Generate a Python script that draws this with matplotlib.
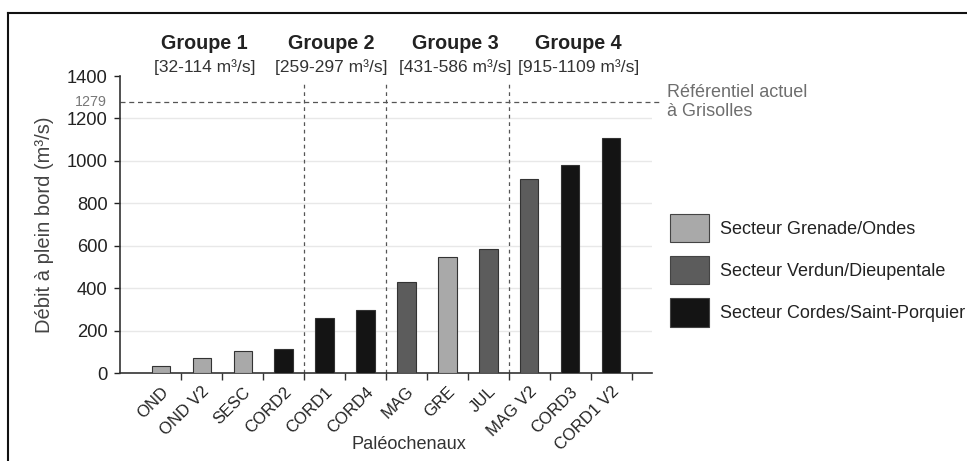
import numpy as np
import matplotlib.pyplot as plt
from matplotlib.lines import Line2D
from matplotlib.patches import Patch

plt.rcParams['font.family'] = ['Liberation Sans', 'DejaVu Sans']

# data
channels = ["OND", "OND V2", "SESC", "CORD2", "CORD1", "CORD4",
            "MAG", "GRE", "JUL", "MAG V2", "CORD3", "CORD1 V2"]
discharge = [32, 72, 103, 114, 259, 297, 431, 548, 586, 915, 980, 1109]
sector = ["G", "G", "G", "C", "C", "C", "V", "G", "V", "V", "C", "C"]

sector_names = {"G": "Secteur Grenade/Ondes",
                "V": "Secteur Verdun/Dieupentale",
                "C": "Secteur Cordes/Saint-Porquier"}
sector_colors = {"G": "#a9a9a9", "V": "#5c5c5c", "C": "#141414"}

groups = ["Groupe 1", "Groupe 2", "Groupe 3", "Groupe 4"]
group_ranges = ["[32-114 m³/s]", "[259-297 m³/s]", "[431-586 m³/s]", "[915-1109 m³/s]"]
group_label_x = [2.07, 5.15, 8.2, 11.2]
group_bounds = [4.5, 6.5, 9.5]

reference_q = 1279

fig = plt.figure(figsize=(9.67, 4.61), dpi=100)
ax = fig.add_axes([120 / 967, 1 - 373 / 461, 532 / 967, 297 / 461])

x = np.arange(1, len(channels) + 1)
colors = [sector_colors[s] for s in sector]
ax.bar(x, discharge, width=0.45, color=colors, edgecolor="#333333",
       linewidth=0.8, zorder=3)

ax.set_xlim(0, len(channels) + 1)
ax.set_ylim(0, 1400)

# faint grid
for yv in range(200, 1400, 200):
    ax.axhline(yv, color="#e8e8e8", lw=1.0, zorder=0)

# reference discharge line
ax.plot([0, len(channels) + 1.2], [reference_q, reference_q], ls=(0, (4, 3)),
        color="#555555", lw=0.9, clip_on=False, zorder=2)
ax.text(-0.024, reference_q, str(reference_q), transform=ax.get_yaxis_transform(),
        ha="right", va="center", fontsize=10.3, color="#777777")
ax.text(13.37, 1362, "Référentiel actuel\nà Grisolles", ha="left", va="top",
        fontsize=13, color="#6e6e6e", linespacing=1.15, clip_on=False)

# group separators
for b in group_bounds:
    ax.plot([b, b], [0, 1375], ls=(0, (3, 3)), color="#555555", lw=0.9,
            clip_on=False, zorder=2)

for gx, g, r in zip(group_label_x, groups, group_ranges):
    ax.text(gx, 1555, g, ha="center", va="center", fontsize=14.2,
            fontweight="bold", color="#222222", clip_on=False)
    ax.text(gx, 1440, r, ha="center", va="center", fontsize=12.5,
            color="#333333", clip_on=False)

# axes styling
for side in ["top", "right"]:
    ax.spines[side].set_visible(False)
for side in ["left", "bottom"]:
    ax.spines[side].set_color("#333333")
    ax.spines[side].set_linewidth(1.2)

ax.set_yticks(range(0, 1401, 200))
ax.tick_params(axis="y", labelsize=13.2, colors="#222222", length=4,
               width=1.0, pad=5)

ax.set_xticks(x)
ax.set_xticklabels(channels, rotation=45, ha="right", rotation_mode="anchor",
                   fontsize=12, color="#222222")
ax.tick_params(axis="x", which="major", length=0, pad=8)
ax.set_xticks(np.arange(1.5, len(channels) + 1, 1.0), minor=True)
ax.tick_params(axis="x", which="minor", length=5, width=1.0, color="#333333")

ax.set_ylabel("Débit à plein bord (m³/s)", fontsize=14.5, color="#444444")
ax.yaxis.set_label_coords(-0.124, 0.5)
ax.text(7.07, -0.242, "Paléochenaux", transform=ax.get_xaxis_transform(),
        ha="center", va="center", fontsize=13.1, color="#333333")

# legend
handles = [Patch(facecolor=sector_colors[k], edgecolor="#444444", linewidth=0.8,
                 label=sector_names[k]) for k in ["G", "V", "C"]]
fig.legend(handles=handles, loc="upper left",
           bbox_to_anchor=(670 / 967, 1 - 214 / 461), frameon=False,
           fontsize=13, handlelength=2.17, handleheight=2.02,
           labelspacing=0.78, handletextpad=0.6, borderpad=0,
           borderaxespad=0, labelcolor="#222222")

# outer frame
fig.add_artist(Line2D([8 / 967, 1], [1 - 13 / 461, 1 - 13 / 461],
                      color="#111111", lw=1.5, transform=fig.transFigure))
fig.add_artist(Line2D([8 / 967, 8 / 967], [0, 1 - 13 / 461],
                      color="#111111", lw=1.5, transform=fig.transFigure))

fig.savefig("out.png", dpi=100)
